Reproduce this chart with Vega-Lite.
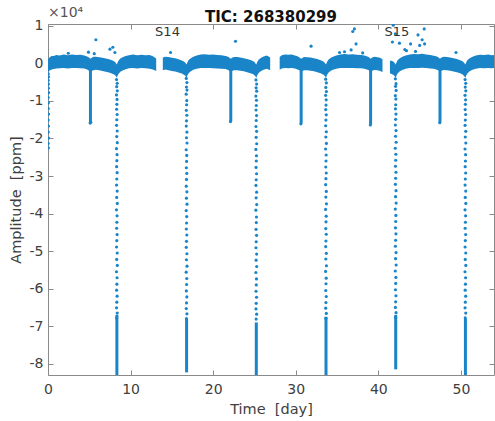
{
  "$schema": "https://vega.github.io/schema/vega-lite/v6.json",
  "width": 446,
  "height": 351,
  "autosize": {"type": "none"},
  "padding": {"left": 48, "top": 24, "right": 1, "bottom": 46},
  "background": "white",
  "title": {"text": "TIC: 268380299", "font": "DejaVu Sans", "fontSize": 15, "fontWeight": "bold", "color": "#111111", "anchor": "middle", "offset": -19},
  "config": {
    "view": {"stroke": null},
    "axis": {"grid": false, "domainColor": "#8a8a8a", "tickColor": "#8a8a8a", "labelColor": "#404040", "titleColor": "#404040", "labelFont": "DejaVu Sans", "titleFont": "DejaVu Sans", "labelFontSize": 14, "titleFontSize": 14.5, "titleFontWeight": "normal", "labelFlush": false, "tickSize": -5}
  },
  "datasets": {
    "band": [
      {"t":0.0,"lo":-2300,"hi":1200,"s":1},{"t":0.1,"lo":-2100,"hi":1400,"s":1},{"t":0.25,"lo":-1800,"hi":1700,"s":1},{"t":0.45,"lo":-1650,"hi":1950,"s":1},{"t":0.7,"lo":-1500,"hi":2000,"s":1},{"t":1.0,"lo":-1350,"hi":2250,"s":1},{"t":1.4,"lo":-1300,"hi":2100,"s":1},{"t":1.9,"lo":-1200,"hi":2350,"s":1},{"t":2.4,"lo":-1350,"hi":2200,"s":1},{"t":2.9,"lo":-1250,"hi":2400,"s":1},{"t":3.4,"lo":-1200,"hi":2250,"s":1},{"t":3.9,"lo":-1300,"hi":2300,"s":1},{"t":4.4,"lo":-1350,"hi":2100,"s":1},{"t":4.8,"lo":-1700,"hi":1800,"s":1},{"t":5.0,"lo":-2000,"hi":1500,"s":1},{"t":5.14,"lo":-2250,"hi":1250,"s":1},{"t":5.3,"lo":-2000,"hi":1500,"s":1},{"t":5.5,"lo":-1800,"hi":1750,"s":1},{"t":5.8,"lo":-1700,"hi":1800,"s":1},{"t":6.2,"lo":-1850,"hi":1650,"s":1},{"t":6.6,"lo":-2000,"hi":1500,"s":1},{"t":7.0,"lo":-2200,"hi":1300,"s":1},{"t":7.4,"lo":-2400,"hi":1100,"s":1},{"t":7.8,"lo":-2750,"hi":750,"s":1},{"t":8.0,"lo":-2950,"hi":550,"s":1},{"t":8.15,"lo":-3200,"hi":300,"s":1},{"t":8.25,"lo":-3500,"hi":0,"s":1},{"t":8.34,"lo":-3800,"hi":-300,"s":1},{"t":8.45,"lo":-3150,"hi":350,"s":1},{"t":8.6,"lo":-2600,"hi":900,"s":1},{"t":8.8,"lo":-2150,"hi":1350,"s":1},{"t":9.1,"lo":-1800,"hi":1700,"s":1},{"t":9.4,"lo":-1550,"hi":1950,"s":1},{"t":9.8,"lo":-1300,"hi":2200,"s":1},{"t":10.3,"lo":-1250,"hi":2350,"s":1},{"t":10.8,"lo":-1350,"hi":2200,"s":1},{"t":11.3,"lo":-1200,"hi":2300,"s":1},{"t":11.8,"lo":-1300,"hi":2150,"s":1},{"t":12.3,"lo":-1400,"hi":2250,"s":1},{"t":12.7,"lo":-1600,"hi":1900,"s":1},{"t":13.1,"lo":-2000,"hi":1300,"s":1},
      {"t":13.9,"lo":-1800,"hi":1600,"s":2},{"t":14.2,"lo":-1650,"hi":1800,"s":2},{"t":14.6,"lo":-1850,"hi":1700,"s":2},{"t":15.0,"lo":-2000,"hi":1500,"s":2},{"t":15.4,"lo":-2150,"hi":1350,"s":2},{"t":15.8,"lo":-2400,"hi":1100,"s":2},{"t":16.2,"lo":-2700,"hi":800,"s":2},{"t":16.45,"lo":-3000,"hi":500,"s":2},{"t":16.6,"lo":-3250,"hi":250,"s":2},{"t":16.7,"lo":-3550,"hi":-50,"s":2},{"t":16.78,"lo":-3800,"hi":-300,"s":2},{"t":16.9,"lo":-3100,"hi":400,"s":2},{"t":17.05,"lo":-2550,"hi":950,"s":2},{"t":17.3,"lo":-2100,"hi":1400,"s":2},{"t":17.6,"lo":-1700,"hi":1800,"s":2},{"t":18.0,"lo":-1450,"hi":2100,"s":2},{"t":18.5,"lo":-1250,"hi":2350,"s":2},{"t":19.0,"lo":-1200,"hi":2450,"s":2},{"t":19.5,"lo":-1250,"hi":2300,"s":2},{"t":20.0,"lo":-1300,"hi":2400,"s":2},{"t":20.5,"lo":-1350,"hi":2250,"s":2},{"t":21.0,"lo":-1400,"hi":2200,"s":2},{"t":21.5,"lo":-1500,"hi":2000,"s":2},{"t":21.8,"lo":-1750,"hi":1750,"s":2},{"t":22.0,"lo":-2050,"hi":1450,"s":2},{"t":22.13,"lo":-2250,"hi":1250,"s":2},{"t":22.3,"lo":-2000,"hi":1500,"s":2},{"t":22.5,"lo":-1800,"hi":1700,"s":2},{"t":22.9,"lo":-1800,"hi":1700,"s":2},{"t":23.3,"lo":-1950,"hi":1550,"s":2},{"t":23.7,"lo":-2100,"hi":1400,"s":2},{"t":24.1,"lo":-2350,"hi":1200,"s":2},{"t":24.5,"lo":-2600,"hi":900,"s":2},{"t":24.8,"lo":-2850,"hi":650,"s":2},{"t":25.0,"lo":-3150,"hi":350,"s":2},{"t":25.12,"lo":-3500,"hi":0,"s":2},{"t":25.22,"lo":-3800,"hi":-300,"s":2},{"t":25.32,"lo":-3200,"hi":300,"s":2},{"t":25.5,"lo":-2550,"hi":950,"s":2},{"t":25.8,"lo":-2000,"hi":1500,"s":2},{"t":26.1,"lo":-1700,"hi":1850,"s":2},{"t":26.5,"lo":-1400,"hi":2100,"s":2},{"t":26.9,"lo":-1800,"hi":1600,"s":2},
      {"t":28.05,"lo":-1700,"hi":1700,"s":3},{"t":28.3,"lo":-1350,"hi":2200,"s":3},{"t":28.7,"lo":-1250,"hi":2400,"s":3},{"t":29.1,"lo":-1300,"hi":2300,"s":3},{"t":29.5,"lo":-1200,"hi":2350,"s":3},{"t":29.9,"lo":-1350,"hi":2100,"s":3},{"t":30.2,"lo":-1600,"hi":1900,"s":3},{"t":30.45,"lo":-1850,"hi":1600,"s":3},{"t":30.65,"lo":-2250,"hi":1250,"s":3},{"t":30.8,"lo":-2050,"hi":1450,"s":3},{"t":31.0,"lo":-1800,"hi":1700,"s":3},{"t":31.4,"lo":-1850,"hi":1650,"s":3},{"t":31.8,"lo":-1950,"hi":1550,"s":3},{"t":32.2,"lo":-2100,"hi":1350,"s":3},{"t":32.6,"lo":-2350,"hi":1150,"s":3},{"t":33.0,"lo":-2650,"hi":850,"s":3},{"t":33.3,"lo":-2950,"hi":550,"s":3},{"t":33.5,"lo":-3300,"hi":200,"s":3},{"t":33.6,"lo":-3600,"hi":-100,"s":3},{"t":33.66,"lo":-3800,"hi":-300,"s":3},{"t":33.78,"lo":-3100,"hi":400,"s":3},{"t":33.95,"lo":-2500,"hi":1000,"s":3},{"t":34.2,"lo":-2050,"hi":1450,"s":3},{"t":34.5,"lo":-1700,"hi":1800,"s":3},{"t":34.9,"lo":-1450,"hi":2100,"s":3},{"t":35.4,"lo":-1250,"hi":2350,"s":3},{"t":35.9,"lo":-1200,"hi":2500,"s":3},{"t":36.4,"lo":-1250,"hi":2400,"s":3},{"t":36.9,"lo":-1200,"hi":2450,"s":3},{"t":37.4,"lo":-1300,"hi":2300,"s":3},{"t":37.9,"lo":-1300,"hi":2250,"s":3},{"t":38.3,"lo":-1400,"hi":2100,"s":3},{"t":38.6,"lo":-1600,"hi":1900,"s":3},{"t":38.85,"lo":-1850,"hi":1650,"s":3},{"t":39.06,"lo":-2250,"hi":1250,"s":3},{"t":39.25,"lo":-1950,"hi":1550,"s":3},{"t":39.5,"lo":-1750,"hi":1750,"s":3},{"t":39.9,"lo":-1850,"hi":1650,"s":3},{"t":40.2,"lo":-2000,"hi":1500,"s":3},{"t":40.5,"lo":-2300,"hi":1100,"s":3},
      {"t":41.4,"lo":-2600,"hi":700,"s":4},{"t":41.6,"lo":-2800,"hi":700,"s":4},{"t":41.8,"lo":-3000,"hi":500,"s":4},{"t":41.95,"lo":-3350,"hi":150,"s":4},{"t":42.03,"lo":-3600,"hi":-100,"s":4},{"t":42.1,"lo":-3800,"hi":-300,"s":4},{"t":42.2,"lo":-3200,"hi":300,"s":4},{"t":42.35,"lo":-2600,"hi":900,"s":4},{"t":42.6,"lo":-2100,"hi":1400,"s":4},{"t":42.9,"lo":-1750,"hi":1750,"s":4},{"t":43.3,"lo":-1450,"hi":2100,"s":4},{"t":43.8,"lo":-1200,"hi":2400,"s":4},{"t":44.3,"lo":-1250,"hi":2500,"s":4},{"t":44.8,"lo":-1200,"hi":2450,"s":4},{"t":45.3,"lo":-1150,"hi":2550,"s":4},{"t":45.8,"lo":-1250,"hi":2400,"s":4},{"t":46.3,"lo":-1350,"hi":2250,"s":4},{"t":46.7,"lo":-1450,"hi":2050,"s":4},{"t":47.0,"lo":-1600,"hi":1900,"s":4},{"t":47.25,"lo":-1850,"hi":1650,"s":4},{"t":47.46,"lo":-2250,"hi":1250,"s":4},{"t":47.65,"lo":-1950,"hi":1550,"s":4},{"t":47.9,"lo":-1750,"hi":1750,"s":4},{"t":48.3,"lo":-1800,"hi":1700,"s":4},{"t":48.7,"lo":-1950,"hi":1550,"s":4},{"t":49.1,"lo":-2150,"hi":1350,"s":4},{"t":49.5,"lo":-2350,"hi":1150,"s":4},{"t":49.9,"lo":-2650,"hi":850,"s":4},{"t":50.2,"lo":-2950,"hi":550,"s":4},{"t":50.4,"lo":-3400,"hi":100,"s":4},{"t":50.54,"lo":-3800,"hi":-300,"s":4},{"t":50.65,"lo":-3150,"hi":350,"s":4},{"t":50.8,"lo":-2600,"hi":900,"s":4},{"t":51.05,"lo":-2100,"hi":1400,"s":4},{"t":51.4,"lo":-1700,"hi":1800,"s":4},{"t":51.8,"lo":-1400,"hi":2100,"s":4},{"t":52.3,"lo":-1250,"hi":2300,"s":4},{"t":52.8,"lo":-1300,"hi":2250,"s":4},{"t":53.3,"lo":-1250,"hi":2350,"s":4},{"t":53.7,"lo":-1300,"hi":2200,"s":4},{"t":54.0,"lo":-1250,"hi":2250,"s":4}
    ],
    "bars": [
      {"t":8.34,"a":-67000,"a2":-83000},{"t":16.78,"a":-68000,"a2":-82300},{"t":25.22,"a":-69000,"a2":-83000},{"t":33.66,"a":-67500,"a2":-83000},{"t":42.1,"a":-67000,"a2":-81500},{"t":50.54,"a":-68000,"a2":-83000},
      {"t":5.14,"a":-1500,"a2":-15800},{"t":22.13,"a":-1500,"a2":-15400},{"t":30.65,"a":-1500,"a2":-16000},{"t":39.06,"a":-1500,"a2":-16300},{"t":47.46,"a":-1500,"a2":-15700}
    ],
    "pts": [
      {"t":0.03,"a":-2800},{"t":0.06,"a":-3600},{"t":0.02,"a":-4500},{"t":0.05,"a":-5500},{"t":0.03,"a":-6600},{"t":0.06,"a":-7800},{"t":0.02,"a":-9100},{"t":0.05,"a":-10500},{"t":0.03,"a":-12000},{"t":0.06,"a":-13500},{"t":0.02,"a":-15100},{"t":0.05,"a":-16700},{"t":0.03,"a":-18300},{"t":0.06,"a":-19900},{"t":0.02,"a":-21300},{"t":0.04,"a":-22500},
      {"t":8.30,"a":-4300},{"t":8.38,"a":-5300},{"t":8.32,"a":-6200},{"t":8.39,"a":-7300},{"t":8.29,"a":-8400},{"t":8.36,"a":-9600},{"t":8.34,"a":-10900},{"t":8.31,"a":-12200},{"t":8.37,"a":-13600},{"t":8.33,"a":-15000},{"t":8.30,"a":-16500},{"t":8.38,"a":-18000},{"t":8.32,"a":-19500},{"t":8.39,"a":-21100},{"t":8.29,"a":-22700},{"t":8.36,"a":-24300},{"t":8.34,"a":-25900},{"t":8.31,"a":-27500},{"t":8.37,"a":-29100},{"t":8.33,"a":-30800},{"t":8.30,"a":-32400},{"t":8.38,"a":-34000},{"t":8.32,"a":-35700},{"t":8.39,"a":-37300},{"t":8.29,"a":-39000},{"t":8.36,"a":-40600},{"t":8.34,"a":-42300},{"t":8.31,"a":-43900},{"t":8.37,"a":-45600},{"t":8.33,"a":-47200},{"t":8.30,"a":-48900},{"t":8.38,"a":-50500},{"t":8.32,"a":-52200},{"t":8.39,"a":-53800},{"t":8.29,"a":-55500},{"t":8.36,"a":-57100},{"t":8.34,"a":-58800},{"t":8.31,"a":-60400},{"t":8.37,"a":-62000},{"t":8.33,"a":-63600},{"t":8.30,"a":-65100},{"t":8.38,"a":-66500},{"t":8.32,"a":-67800},
      {"t":16.74,"a":-4000},{"t":16.82,"a":-5100},{"t":16.76,"a":-6300},{"t":16.83,"a":-7100},{"t":16.73,"a":-8200},{"t":16.80,"a":-9900},{"t":16.78,"a":-11000},{"t":16.75,"a":-12500},{"t":16.81,"a":-13800},{"t":16.77,"a":-15300},{"t":16.74,"a":-16700},{"t":16.82,"a":-18300},{"t":16.76,"a":-19800},{"t":16.83,"a":-21200},{"t":16.73,"a":-23000},{"t":16.80,"a":-24500},{"t":16.78,"a":-26100},{"t":16.75,"a":-27800},{"t":16.81,"a":-29300},{"t":16.77,"a":-30900},{"t":16.74,"a":-32700},{"t":16.82,"a":-34200},{"t":16.76,"a":-35900},{"t":16.83,"a":-37500},{"t":16.73,"a":-39200},{"t":16.80,"a":-40800},{"t":16.78,"a":-42500},{"t":16.75,"a":-44100},{"t":16.81,"a":-45700},{"t":16.77,"a":-47400},{"t":16.74,"a":-49000},{"t":16.82,"a":-50700},{"t":16.76,"a":-52300},{"t":16.83,"a":-54000},{"t":16.73,"a":-55600},{"t":16.80,"a":-57300},{"t":16.78,"a":-58900},{"t":16.75,"a":-60600},{"t":16.81,"a":-62200},{"t":16.77,"a":-63800},{"t":16.74,"a":-65300},{"t":16.82,"a":-66700},{"t":16.76,"a":-68000},
      {"t":25.18,"a":-4400},{"t":25.26,"a":-5500},{"t":25.20,"a":-6500},{"t":25.27,"a":-7400},{"t":25.17,"a":-8700},{"t":25.24,"a":-9800},{"t":25.22,"a":-11200},{"t":25.19,"a":-12400},{"t":25.25,"a":-13900},{"t":25.21,"a":-15200},{"t":25.18,"a":-16800},{"t":25.26,"a":-18100},{"t":25.20,"a":-19700},{"t":25.27,"a":-21400},{"t":25.17,"a":-22900},{"t":25.24,"a":-24600},{"t":25.22,"a":-26000},{"t":25.19,"a":-27700},{"t":25.25,"a":-29400},{"t":25.21,"a":-31000},{"t":25.18,"a":-32500},{"t":25.26,"a":-34300},{"t":25.20,"a":-35800},{"t":25.27,"a":-37600},{"t":25.17,"a":-39100},{"t":25.24,"a":-40900},{"t":25.22,"a":-42400},{"t":25.19,"a":-44200},{"t":25.25,"a":-45800},{"t":25.21,"a":-47500},{"t":25.18,"a":-49100},{"t":25.26,"a":-50800},{"t":25.20,"a":-52400},{"t":25.27,"a":-54100},{"t":25.17,"a":-55700},{"t":25.24,"a":-57400},{"t":25.22,"a":-59000},{"t":25.19,"a":-60700},{"t":25.25,"a":-62300},{"t":25.21,"a":-63900},{"t":25.18,"a":-65400},{"t":25.26,"a":-66800},{"t":25.20,"a":-68100},
      {"t":33.62,"a":-4200},{"t":33.70,"a":-5200},{"t":33.64,"a":-6400},{"t":33.71,"a":-7500},{"t":33.61,"a":-8500},{"t":33.68,"a":-9700},{"t":33.66,"a":-11100},{"t":33.63,"a":-12300},{"t":33.69,"a":-13700},{"t":33.65,"a":-15100},{"t":33.62,"a":-16600},{"t":33.70,"a":-18200},{"t":33.64,"a":-19600},{"t":33.71,"a":-21300},{"t":33.61,"a":-22800},{"t":33.68,"a":-24400},{"t":33.66,"a":-26000},{"t":33.63,"a":-27600},{"t":33.69,"a":-29200},{"t":33.65,"a":-30700},{"t":33.62,"a":-32300},{"t":33.70,"a":-34100},{"t":33.64,"a":-35600},{"t":33.71,"a":-37400},{"t":33.61,"a":-38900},{"t":33.68,"a":-40700},{"t":33.66,"a":-42200},{"t":33.63,"a":-44000},{"t":33.69,"a":-45500},{"t":33.65,"a":-47300},{"t":33.62,"a":-48800},{"t":33.70,"a":-50600},{"t":33.64,"a":-52100},{"t":33.71,"a":-53900},{"t":33.61,"a":-55400},{"t":33.68,"a":-57200},{"t":33.66,"a":-58700},{"t":33.63,"a":-60500},{"t":33.69,"a":-62100},{"t":33.65,"a":-63700},{"t":33.62,"a":-65200},{"t":33.70,"a":-66600},{"t":33.64,"a":-67900},
      {"t":42.06,"a":-4100},{"t":42.14,"a":-5400},{"t":42.08,"a":-6100},{"t":42.15,"a":-7200},{"t":42.05,"a":-8600},{"t":42.12,"a":-9500},{"t":42.10,"a":-11000},{"t":42.07,"a":-12100},{"t":42.13,"a":-13500},{"t":42.09,"a":-14900},{"t":42.06,"a":-16400},{"t":42.14,"a":-17900},{"t":42.08,"a":-19400},{"t":42.15,"a":-21000},{"t":42.05,"a":-22600},{"t":42.12,"a":-24200},{"t":42.10,"a":-25800},{"t":42.07,"a":-27400},{"t":42.13,"a":-29000},{"t":42.09,"a":-30600},{"t":42.06,"a":-32200},{"t":42.14,"a":-33900},{"t":42.08,"a":-35500},{"t":42.15,"a":-37200},{"t":42.05,"a":-38800},{"t":42.12,"a":-40500},{"t":42.10,"a":-42100},{"t":42.07,"a":-43800},{"t":42.13,"a":-45400},{"t":42.09,"a":-47100},{"t":42.06,"a":-48700},{"t":42.14,"a":-50400},{"t":42.08,"a":-52000},{"t":42.15,"a":-53700},{"t":42.05,"a":-55300},{"t":42.12,"a":-57000},{"t":42.10,"a":-58600},{"t":42.07,"a":-60300},{"t":42.13,"a":-61900},{"t":42.09,"a":-63500},{"t":42.06,"a":-65000},{"t":42.14,"a":-66400},{"t":42.08,"a":-67700},
      {"t":50.50,"a":-4300},{"t":50.58,"a":-5300},{"t":50.52,"a":-6300},{"t":50.59,"a":-7300},{"t":50.49,"a":-8500},{"t":50.56,"a":-9700},{"t":50.54,"a":-10900},{"t":50.51,"a":-12300},{"t":50.57,"a":-13600},{"t":50.53,"a":-15100},{"t":50.50,"a":-16500},{"t":50.58,"a":-18100},{"t":50.52,"a":-19600},{"t":50.59,"a":-21200},{"t":50.49,"a":-22800},{"t":50.56,"a":-24300},{"t":50.54,"a":-26000},{"t":50.51,"a":-27500},{"t":50.57,"a":-29200},{"t":50.53,"a":-30800},{"t":50.50,"a":-32400},{"t":50.58,"a":-34000},{"t":50.52,"a":-35700},{"t":50.59,"a":-37300},{"t":50.49,"a":-39000},{"t":50.56,"a":-40600},{"t":50.54,"a":-42300},{"t":50.51,"a":-43900},{"t":50.57,"a":-45600},{"t":50.53,"a":-47200},{"t":50.50,"a":-48900},{"t":50.58,"a":-50500},{"t":50.52,"a":-52200},{"t":50.59,"a":-53800},{"t":50.49,"a":-55500},{"t":50.56,"a":-57100},{"t":50.54,"a":-58800},{"t":50.51,"a":-60400},{"t":50.57,"a":-62000},{"t":50.53,"a":-63600},{"t":50.50,"a":-65100},{"t":50.58,"a":-66500},{"t":50.52,"a":-67800},
      {"t":5.10,"a":-15900},{"t":5.18,"a":-15700},{"t":22.10,"a":-15500},{"t":30.62,"a":-16100},{"t":39.03,"a":-16400},{"t":47.43,"a":-15800},
      {"t":2.46,"a":2700},{"t":4.9,"a":3000},{"t":5.6,"a":2600},{"t":5.8,"a":6300},{"t":7.5,"a":3800},{"t":7.85,"a":4300},{"t":8.1,"a":2900},{"t":14.84,"a":2900},{"t":22.7,"a":5900},{"t":31.85,"a":4600},{"t":35.3,"a":2900},{"t":35.9,"a":3100},{"t":36.7,"a":3600},{"t":36.9,"a":8500},{"t":37.1,"a":9200},{"t":37.3,"a":5200},{"t":38.1,"a":2800},{"t":41.8,"a":10200},{"t":41.7,"a":5700},{"t":42.05,"a":7900},{"t":42.55,"a":5400},{"t":43.2,"a":3700},{"t":43.4,"a":3400},{"t":43.9,"a":5200},{"t":44.5,"a":3200},{"t":44.8,"a":7600},{"t":45.0,"a":4800},{"t":45.3,"a":6300},{"t":45.55,"a":9200},{"t":45.6,"a":5200},{"t":49.4,"a":2900}
    ],
    "labels": [
      {"t":14.47,"a":8300,"label":"S14"},
      {"t":42.25,"a":8300,"label":"S15"}
    ]
  },
  "layer": [
    {
      "data": {"name": "band"},
      "mark": {"type": "area", "color": "#1984c8", "opacity": 1, "clip": true},
      "encoding": {
        "x": {"field": "t", "type": "quantitative", "scale": {"domain": [0, 54], "nice": false, "zero": false},
              "axis": {"orient": "bottom", "values": [0, 10, 20, 30, 40, 50], "title": "Time\u00a0 [day]", "labelPadding": 12, "titlePadding": 6}},
        "y": {"field": "lo", "type": "quantitative", "scale": {"domain": [-83000, 10500], "nice": false, "zero": false},
              "axis": {"orient": "left", "values": [-80000, -70000, -60000, -50000, -40000, -30000, -20000, -10000, 0, 10000], "labelExpr": "'' + (datum.value / 10000)", "title": "Amplitude\u00a0 [ppm]", "labelPadding": 10, "titlePadding": 6}},
        "y2": {"field": "hi"},
        "detail": {"field": "s", "type": "nominal"}
      }
    },
    {
      "data": {"name": "bars"},
      "mark": {"type": "rule", "color": "#1984c8", "strokeWidth": 3, "clip": true},
      "encoding": {
        "x": {"field": "t", "type": "quantitative", "axis": {"orient": "top", "values": [0, 10, 20, 30, 40, 50], "labels": false, "title": null}},
        "y": {"field": "a", "type": "quantitative", "axis": {"orient": "right", "values": [-80000, -70000, -60000, -50000, -40000, -30000, -20000, -10000, 0, 10000], "labels": false, "title": null}},
        "y2": {"field": "a2"}
      }
    },
    {
      "data": {"name": "pts"},
      "mark": {"type": "point", "shape": "circle", "filled": true, "color": "#1984c8", "size": 10, "opacity": 1, "clip": true},
      "encoding": {
        "x": {"field": "t", "type": "quantitative", "axis": null},
        "y": {"field": "a", "type": "quantitative", "axis": null}
      }
    },
    {
      "data": {"name": "labels"},
      "mark": {"type": "text", "font": "DejaVu Sans", "fontSize": 13, "color": "#333333", "baseline": "middle", "align": "center"},
      "encoding": {
        "x": {"field": "t", "type": "quantitative", "axis": null},
        "y": {"field": "a", "type": "quantitative", "axis": null},
        "text": {"field": "label"}
      }
    },
    {
      "data": {"values": [{}]},
      "mark": {"type": "text", "text": "×10⁴", "font": "DejaVu Sans", "fontSize": 14, "color": "#555555", "align": "left", "baseline": "bottom", "dy": -4},
      "encoding": {
        "x": {"datum": 0, "type": "quantitative", "axis": null},
        "y": {"datum": 10500, "type": "quantitative", "axis": null}
      }
    }
  ],
  "resolve": {"axis": {"x": "independent", "y": "independent"}}
}
